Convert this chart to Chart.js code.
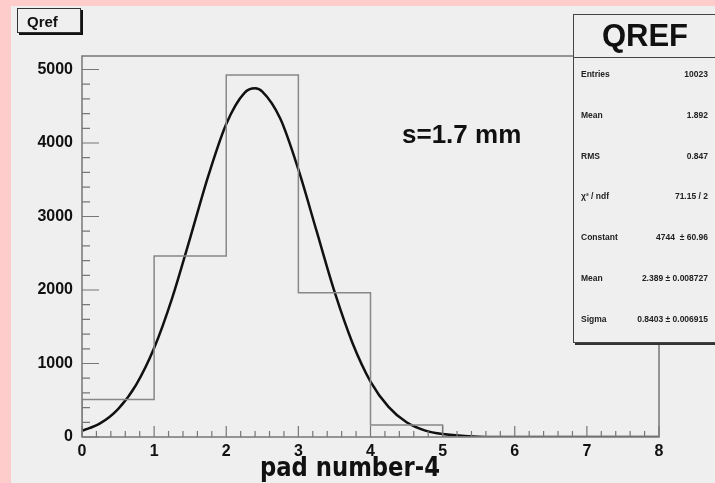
<!DOCTYPE html>
<html>
<head>
<meta charset="utf-8">
<script src="https://cdn.jsdelivr.net/npm/chart.js@4.4.0/dist/chart.umd.min.js"></script>
<style>
  html, body { margin: 0; padding: 0; background: #ffcccc; }
  #wrap { width: 715px; height: 483px; }
</style>
</head>
<body>
<div id="wrap"><canvas id="qrefChart" width="715" height="483"></canvas></div>
<script>
// histogram bins (pad number-4), counts
const binEdges = [0, 1, 2, 3, 4, 5, 6, 7, 8];
const binCounts = [510, 2463, 4925, 1963, 163, 0, 0, 0];

// gaussian fit curve
const fitX = [0, 0.25, 0.5, 0.75, 1, 1.25, 1.5, 1.75, 2, 2.25, 2.4, 2.5, 2.75, 3, 3.25, 3.5, 3.75, 4, 4.25, 4.5, 4.75, 5, 5.5, 6, 7, 8];
const fitY = [85, 185, 380, 710, 1210, 1890, 2710, 3550, 4260, 4680, 4744, 4700, 4330, 3640, 2810, 1980, 1280, 755, 410, 200, 90, 40, 5, 0, 0, 0];

// axis ticks
const xTicks = [0, 1, 2, 3, 4, 5, 6, 7, 8];
const yTicks = [0, 1000, 2000, 3000, 4000, 5000];

// stats box
const statNames = ['Entries', 'Mean', 'RMS', '\u03c7\u00b2 / ndf', 'Constant', 'Mean', 'Sigma'];
const statValues = ['10023', '1.892', '0.847', '71.15 / 2', '4744  \u00b1 60.96', '2.389 \u00b1 0.008727', '0.8403 \u00b1 0.006915'];

const histPoints = [{ x: binEdges[0], y: 0 }];
binCounts.forEach((c, i) => histPoints.push({ x: binEdges[i], y: c }));
histPoints.push({ x: binEdges[binEdges.length - 1], y: 0 });

const fitPoints = fitX.map((x, i) => ({ x: x, y: fitY[i] }));

const FONT = '"Liberation Sans", Arial, sans-serif';

const rootStyle = {
    id: 'rootStyle',
    beforeDraw(chart) {
        const ctx = chart.ctx;
        ctx.save();
        ctx.fillStyle = '#ffcccc';
        ctx.fillRect(0, 0, chart.width, chart.height);
        ctx.fillStyle = '#efefef';
        ctx.fillRect(11, 6, chart.width - 11, chart.height - 6);
        ctx.restore();
    },
    afterDatasetsDraw(chart) {
        const ctx = chart.ctx;
        const a = chart.chartArea;
        const xs = chart.scales.x;
        const ys = chart.scales.y;
        ctx.save();
        ctx.strokeStyle = '#777';
        ctx.lineWidth = 1.5;
        ctx.strokeRect(a.left, a.top, a.right - a.left, a.bottom - a.top);

        ctx.lineWidth = 1.2;
        ctx.beginPath();
        // x ticks, pointing up
        for (let v = 0; v <= 8.001; v += 0.2) {
            const px = xs.getPixelForValue(v);
            const major = Math.abs(v - Math.round(v)) < 0.01;
            ctx.moveTo(px, a.bottom);
            ctx.lineTo(px, a.bottom - (major ? 11 : 6));
        }
        // y ticks, pointing right
        for (let v = 0; v <= 5100; v += 200) {
            const py = ys.getPixelForValue(v);
            const major = v % 1000 === 0;
            ctx.moveTo(a.left, py);
            ctx.lineTo(a.left + (major ? 17 : 8), py);
        }
        ctx.stroke();
        ctx.restore();
    },
    afterDraw(chart) {
        const ctx = chart.ctx;
        ctx.save();

        // title box
        ctx.fillStyle = '#111';
        ctx.fillRect(19, 10, 64, 25);
        ctx.fillStyle = '#efefef';
        ctx.fillRect(17, 8, 64, 25);
        ctx.strokeStyle = '#333';
        ctx.lineWidth = 1;
        ctx.strokeRect(17.5, 8.5, 63, 24);
        ctx.fillStyle = '#111';
        ctx.font = 'bold 15px ' + FONT;
        ctx.textBaseline = 'alphabetic';
        ctx.textAlign = 'left';
        ctx.fillText('Qref', 27, 27);

        // stats box
        ctx.fillStyle = '#333';
        ctx.fillRect(575, 16, 160, 329);
        ctx.fillStyle = '#efefef';
        ctx.fillRect(573, 14, 160, 328);
        ctx.strokeStyle = '#444';
        ctx.strokeRect(573.5, 14.5, 160, 328);
        ctx.beginPath();
        ctx.moveTo(573, 57.5);
        ctx.lineTo(715, 57.5);
        ctx.stroke();
        ctx.fillStyle = '#111';
        ctx.font = 'bold 31px ' + FONT;
        ctx.textAlign = 'center';
        ctx.fillText('QREF', 645, 46);
        ctx.font = 'bold 8.5px ' + FONT;
        ctx.fillStyle = '#222';
        statNames.forEach((name, i) => {
            const y = 77 + i * 40.8;
            ctx.textAlign = 'left';
            ctx.fillText(name, 581, y);
            ctx.textAlign = 'right';
            ctx.fillText(statValues[i], 708, y);
        });

        // annotation
        ctx.fillStyle = '#111';
        ctx.textAlign = 'left';
        ctx.font = 'bold 26px ' + FONT;
        ctx.fillText('s=1.7 mm', 402, 143);

        // x axis title, condensed
        ctx.font = 'bold 26px "Liberation Sans Narrow", "DejaVu Sans Condensed", ' + FONT;
        const w = ctx.measureText('pad number-4').width;
        ctx.translate(260, 476);
        ctx.scale(180 / w, 1);
        ctx.fillText('pad number-4', 0, 0);
        ctx.restore();
    }
};

const ctx = document.getElementById('qrefChart').getContext('2d');
new Chart(ctx, {
    type: 'line',
    data: {
        datasets: [{
            label: 'Qref',
            data: histPoints,
            stepped: 'before',
            borderColor: '#888',
            borderWidth: 1.5,
            pointRadius: 0,
            fill: false
        }, {
            label: 'fit',
            data: fitPoints,
            cubicInterpolationMode: 'monotone',
            borderColor: '#111',
            borderWidth: 2.5,
            pointRadius: 0,
            fill: false
        }]
    },
    options: {
        responsive: false,
        animation: false,
        layout: {
            padding: { left: 0, top: 56, right: 56, bottom: 0 }
        },
        scales: {
            x: {
                type: 'linear',
                min: 0,
                max: 8,
                afterFit: s => { s.height = 46; },
                afterBuildTicks: s => { s.ticks = xTicks.map(v => ({ value: v })); },
                grid: { display: false, drawTicks: false },
                border: { display: false },
                ticks: {
                    autoSkip: false,
                    padding: 5,
                    color: '#111',
                    callback: v => String(v),
                    font: { family: FONT, size: 16, weight: 'bold' }
                }
            },
            y: {
                min: 0,
                max: 5184,
                afterFit: s => { s.width = 82; },
                afterBuildTicks: s => { s.ticks = yTicks.map(v => ({ value: v })); },
                grid: { display: false, drawTicks: false },
                border: { display: false },
                ticks: {
                    autoSkip: false,
                    padding: 9,
                    color: '#111',
                    callback: v => String(v),
                    font: { family: FONT, size: 16, weight: 'bold' }
                }
            }
        },
        plugins: {
            legend: { display: false },
            tooltip: { enabled: false }
        }
    },
    plugins: [rootStyle]
});
</script>
</body>
</html>
